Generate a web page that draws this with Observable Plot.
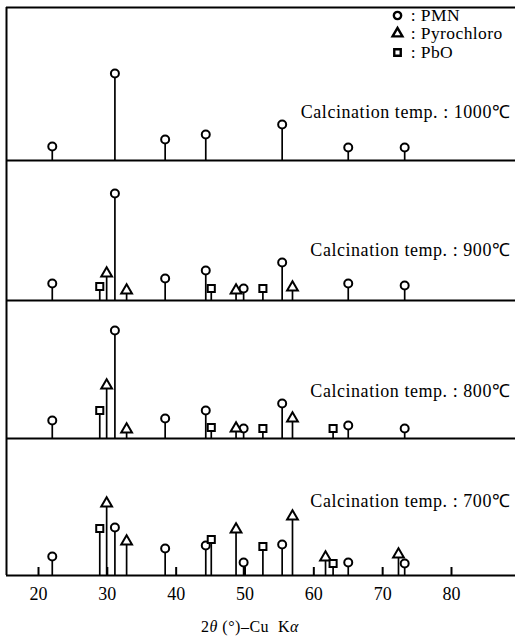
<!DOCTYPE html>
<html><head><meta charset="utf-8">
<script src="https://cdn.jsdelivr.net/npm/d3@7"></script>
<script src="https://cdn.jsdelivr.net/npm/@observablehq/plot@0.6"></script>
<style>
body{margin:0;background:#fff;}
#wrap{position:relative;width:515px;height:640px;font-family:"Liberation Serif",serif;color:#000;overflow:hidden;}
#charts svg{display:block;overflow:visible;}
#legend{position:absolute;left:392px;top:6px;font-size:17.5px;letter-spacing:0.4px;}
#legend .row{height:18.5px;display:flex;align-items:center;white-space:pre;}
#legend svg{margin-right:3px;overflow:visible;}
#caption{position:absolute;left:0;width:500px;top:618px;text-align:center;font-size:16px;letter-spacing:0.5px;}
</style></head><body>
<div id="wrap"><div id="charts"></div><div id="legend"></div><div id="caption">2<i>θ</i> (°)–Cu&nbsp;&nbsp;K<i>α</i></div></div>
<script>
// ---- data ----
const phases = ["PMN", "Pyrochloro", "PbO"];
const temps = ["1000℃", "900℃", "800℃", "700℃"];
const pmnAngles = [22.0, 31.1, 38.4, 44.3, 49.8, 55.4, 65.0, 73.2];
const pmn1000 = [14, 87, 21, 26, null, 36, 13, 13];
const pmn900  = [17, 107, 22, 30, 12, 38, 17, 15];
const pmn800  = [18, 108, 20, 28, 10, 35, 13, 10];
const pmn700  = [19, 48, 27, 30, 13, 31, 13, 12];
const pyroAngles = [29.9, 32.8, 48.7, 56.9, 61.7, 72.3];
const pyro1000 = [null, null, null, null, null, null];
const pyro900  = [27, 10, 10, 13, null, null];
const pyro800  = [53, 9, 10, 20, null, null];
const pyro700  = [72, 34, 46, 59, 18, 21];
const pboAngles = [28.9, 45.1, 52.6, 62.8];
const pbo1000 = [null, null, null, null];
const pbo900  = [14, 12, 12, null];
const pbo800  = [28, 11, 10, 10];
const pbo700  = [47, 36, 29, 12];
const panelMax = [153, 140, 138, 137];
const xTicks = [20, 30, 40, 50, 60, 70, 80];

// ---- layout ----
const xDomain = [15.35, 89.3];
const labelDy = [-43, -45, -42, -69];
const pmnSeries = [pmn1000, pmn900, pmn800, pmn700];
const pyroSeries = [pyro1000, pyro900, pyro800, pyro700];
const pboSeries = [pbo1000, pbo900, pbo800, pbo700];
const font = "Liberation Serif, serif";

function rows(i) {
  const out = [];
  pmnAngles.forEach((a, k) => { if (pmnSeries[i][k] != null) out.push({angle: a, intensity: pmnSeries[i][k], phase: "PMN"}); });
  pyroAngles.forEach((a, k) => { if (pyroSeries[i][k] != null) out.push({angle: a, intensity: pyroSeries[i][k], phase: "Pyrochloro"}); });
  pboAngles.forEach((a, k) => { if (pboSeries[i][k] != null) out.push({angle: a, intensity: pboSeries[i][k], phase: "PbO"}); });
  return out;
}

const charts = document.getElementById("charts");
temps.forEach((t, i) => {
  const peaks = rows(i);
  const first = i === 0, last = i === temps.length - 1;
  const mt = first ? 7 : 0, mb = last ? 30 : 0;
  const chart = Plot.plot({
    width: 515,
    height: panelMax[i] + mt + mb,
    marginLeft: 6, marginRight: 0, marginTop: mt, marginBottom: mb,
    x: {domain: xDomain, axis: null},
    y: {domain: [0, panelMax[i]], axis: null},
    symbol: {domain: phases, range: ["circle", "triangle", "square"]},
    style: {fontFamily: font, background: "white", overflow: "visible"},
    marks: [
      last ? Plot.ruleX(xTicks, {x: d => d, y1: 0, y2: 8, strokeWidth: 2}) : null,
      last ? Plot.axisX({ticks: xTicks, tickSize: 0, tickPadding: 12, fontSize: 18, label: null, fill: "black"}) : null,
      Plot.ruleX(peaks, {x: "angle", y1: 0, y2: "intensity", strokeWidth: 1.7}),
      Plot.ruleY([0], {strokeWidth: 2}),
      Plot.ruleX([xDomain[0]], {strokeWidth: 2}),
      first ? Plot.ruleY([panelMax[0]], {strokeWidth: 2}) : null,
      Plot.dot(peaks, {x: "angle", y: "intensity", symbol: "phase", r: 4, fill: "white", stroke: "black", strokeWidth: 2}),
      Plot.text([`Calcination temp. : ${t}`], {frameAnchor: "bottom-right", dx: -5, dy: labelDy[i], textAnchor: "end", fontSize: 18, fill: "black"})
    ]
  });
  charts.appendChild(chart);
});
charts.querySelectorAll("text").forEach(el => { if (el.textContent.startsWith("Calcination")) el.setAttribute("letter-spacing", "0.55"); });

// legend
const legend = document.getElementById("legend");
const symbols = [d3.symbolCircle, d3.symbolTriangle, d3.symbolSquare];
phases.forEach((p, k) => {
  const row = document.createElement("div");
  row.className = "row";
  const path = d3.symbol(symbols[k], 42)();
  row.innerHTML = `<svg width="11" height="11" viewBox="-5.5 -5.5 11 11"><path d="${path}" fill="white" stroke="black" stroke-width="2.4"/></svg><span> : ${p}</span>`;
  legend.appendChild(row);
});
</script>
</body></html>
